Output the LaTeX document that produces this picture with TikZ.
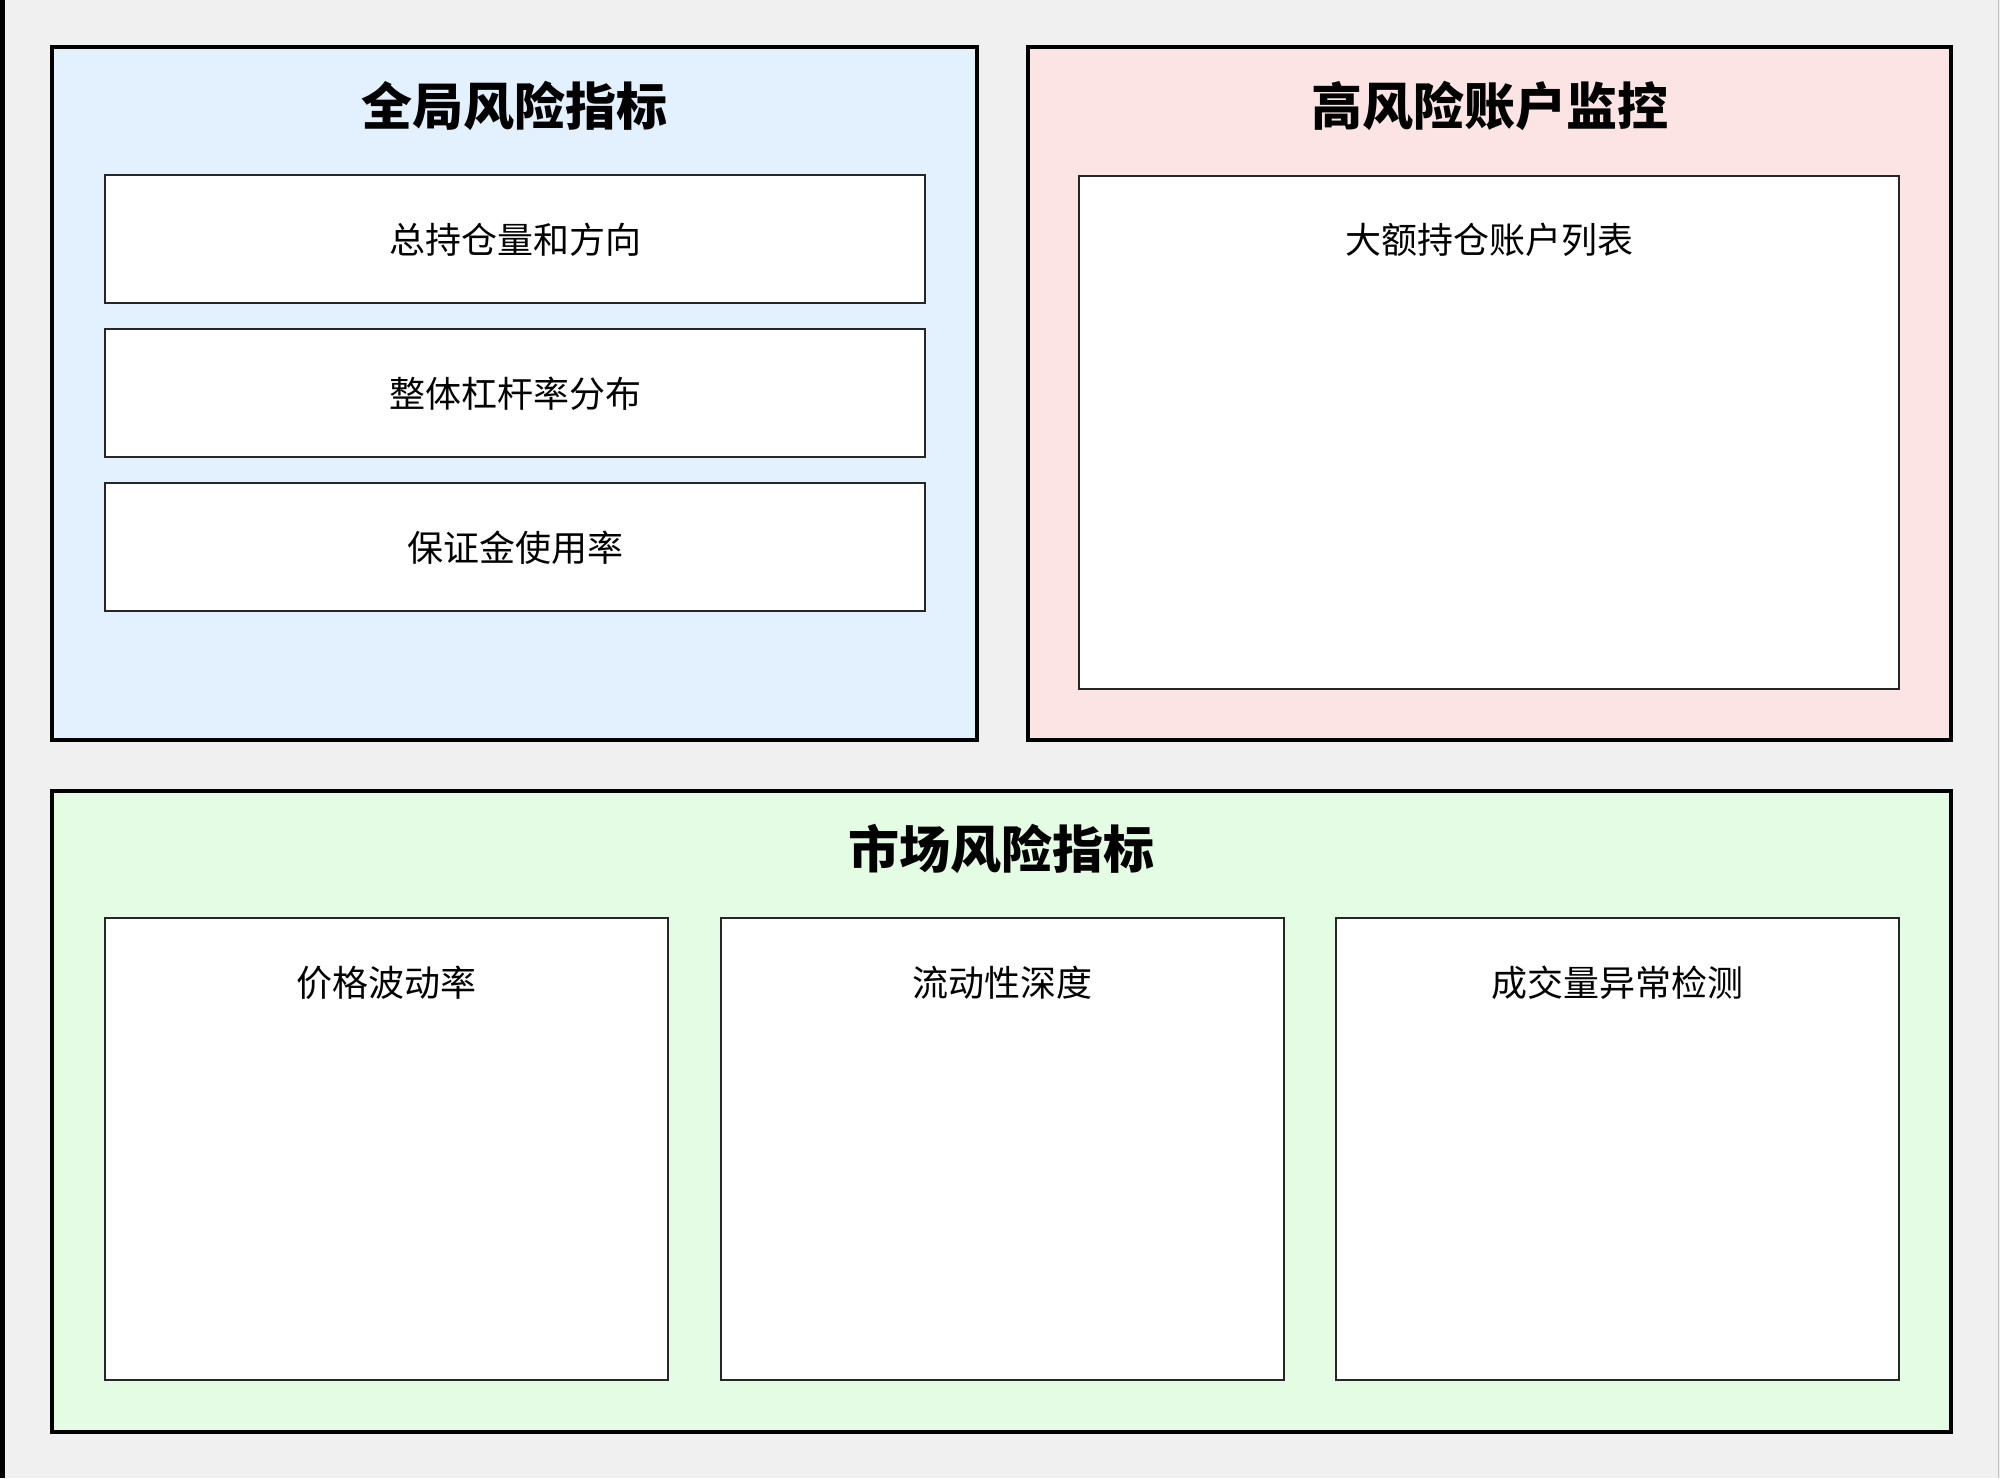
\documentclass[tikz,border=0pt]{standalone}
\usepackage{fontspec}
\usepackage{tikz}
\newfontfamily\cjk{Noto Sans CJK SC}
\definecolor{pagegray}{HTML}{F0F0F0}
\definecolor{globalblue}{HTML}{E3F0FD}
\definecolor{accountred}{HTML}{FDE4E4}
\definecolor{marketgreen}{HTML}{E4FCE4}

\begin{document}
\begin{tikzpicture}[x=1pt, y=-1pt,
  panel/.style={rectangle, draw=black, line width=4.5pt, inner sep=0pt},
  item/.style={rectangle, draw=black!85, line width=2pt, fill=white, inner sep=0pt},
  heading/.style={font=\cjk\bfseries\fontsize{51}{56}\selectfont},
  itemtext/.style={font=\cjk\fontsize{36}{40}\selectfont}]
\useasboundingbox (0,0) rectangle (2000,1478);
\fill[pagegray] (0,0) rectangle (2000,1478);
\draw[line width=4.5pt] (2.25,0) -- (2.25,1478); % screen edge
\draw[black!25, line width=1pt] (1998.5,0) -- (1998.5,1478);
% Panels
\node[panel, fill=globalblue, minimum width=925pt, minimum height=693pt] (global) at (514.5,393.5) {};
\node[panel, fill=accountred, minimum width=923pt, minimum height=693pt] (account) at (1489.5,393.5) {};
\node[panel, fill=marketgreen, minimum width=1899pt, minimum height=641pt] (market) at (1001.5,1111.5) {};
% Panel headings
\node[heading] (globaltitle) at ([yshift=-61pt]global.north) {全局风险指标};
\node[heading] (accounttitle) at ([yshift=-61pt]account.north) {高风险账户监控};
\node[heading] (markettitle) at ([yshift=-60pt]market.north) {市场风险指标};
% Global risk items
\node[item, minimum width=820pt, minimum height=128pt] (position) at (515,239) {};
\node[item, minimum width=820pt, minimum height=128pt] (leverage) at (515,393) {};
\node[item, minimum width=820pt, minimum height=128pt] (margin) at (515,547) {};
\node[itemtext] at ([yshift=-1pt]position.center) {总持仓量和方向};
\node[itemtext] at ([yshift=-1pt]leverage.center) {整体杠杆率分布};
\node[itemtext] at ([yshift=-1pt]margin.center) {保证金使用率};
% High risk accounts
\node[item, minimum width=820pt, minimum height=513pt] (largepos) at (1489,432.5) {};
\node[itemtext] (largepostext) at ([yshift=-65pt]largepos.north) {大额持仓账户列表};
% Market risk items
\node[item, minimum width=563pt, minimum height=462pt] (volatility) at (386.5,1149) {};
\node[item, minimum width=563pt, minimum height=462pt] (liquidity) at (1002,1149) {};
\node[item, minimum width=563pt, minimum height=462pt] (volume) at (1617,1149) {};
\node[itemtext] (volatilitytext) at ([yshift=-66pt]volatility.north) {价格波动率};
\node[itemtext] (liquiditytext) at ([yshift=-66pt]liquidity.north) {流动性深度};
\node[itemtext] (volumetext) at ([yshift=-66pt]volume.north) {成交量异常检测};
\end{tikzpicture}
\end{document}
